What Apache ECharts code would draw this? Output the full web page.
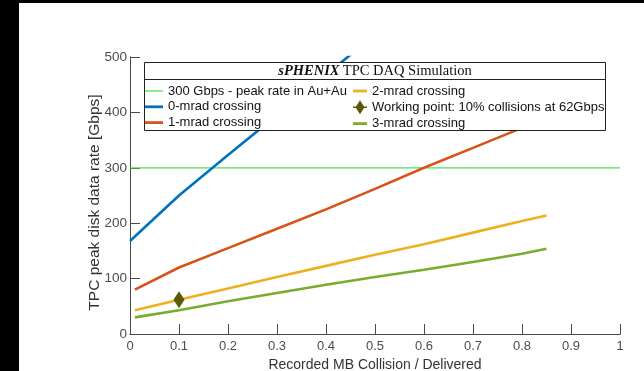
<!DOCTYPE html>
<html>
<head>
<meta charset="utf-8">
<script src="https://cdn.jsdelivr.net/npm/echarts@6/dist/echarts.min.js"></script>
<style>
html,body{margin:0;padding:0;background:#fff;}
#c{width:644px;height:371px;}
</style>
</head>
<body>
<div id="c"></div>
<script>
// ---- data ----
var xTicks = [0, 0.1, 0.2, 0.3, 0.4, 0.5, 0.6, 0.7, 0.8, 0.9, 1];
var yTicks = [0, 100, 200, 300, 400, 500];
var peakRateX = [0, 1];
var peakRateY = [300, 300];
var mrad0X = [0, 0.1, 0.2, 0.3, 0.4, 0.5];
var mrad0Y = [168, 250, 323, 395, 468, 540];
var mradX = [0.01, 0.1, 0.2, 0.3, 0.4, 0.5, 0.6, 0.7, 0.8, 0.85];
var mrad1Y = [80, 120, 155, 190, 225, 262, 300, 336, 372, 390];
var mrad2Y = [43, 62, 82, 103, 123, 143, 162, 183, 204, 214];
var mrad3Y = [30, 43, 59, 74, 89, 103, 116, 130, 145, 154];
var workX = [0.1];
var workY = [62];
var names = ['300 Gbps - peak rate in Au+Au', '0-mrad crossing', '1-mrad crossing',
             '2-mrad crossing', 'Working point: 10% collisions at 62Gbps', '3-mrad crossing'];

function zip(xs, ys) { return xs.map(function (x, i) { return [x, ys[i]]; }); }

var axisCol = '#4a4a4a';
var labelCol = '#4d4d4d';
var font = 'Liberation Sans, Arial, sans-serif';
var lineIcon = 'path://M0,0 H18 V2.8 H0 Z';
var thinIcon = 'path://M0,0 H18 V1.3 H0 Z';
var lineIcon2 = 'path://M0,0 H14 V2.8 H0 Z';
var diamondIcon = 'path://M0,6.3 H14 V7.7 H0 Z M7,0 L11.5,7 L7,14 L2.5,7 Z';

var chart = echarts.init(document.getElementById('c'));
function lineSeries(name, data, color, width) {
  return {
    name: name, type: 'line', data: data, symbol: 'none', z: 2,
    xAxisIndex: 0, yAxisIndex: 0,
    lineStyle: { color: color, width: width }, itemStyle: { color: color },
    animation: false
  };
}
// axes that only draw the inward tick marks (shifted 5px into the plot, ticks pointing back out)
function xTickAxis(pos) {
  return {
    type: 'value', min: 0, max: 1, interval: 0.1, position: pos, offset: -5,
    axisLine: { show: false },
    axisTick: { show: true, length: 5, lineStyle: { color: axisCol } },
    axisLabel: { show: false }, splitLine: { show: false }
  };
}
function yTickAxis(pos) {
  return {
    type: 'value', min: 0, max: 500, interval: 100, position: pos, offset: -5,
    axisLine: { show: false },
    axisTick: { show: true, length: 5, lineStyle: { color: axisCol } },
    axisLabel: { show: false }, splitLine: { show: false }
  };
}
var legendText = { color: '#111', fontSize: 13, fontFamily: font };
var option = {
  backgroundColor: '#fff',
  animation: false,
  grid: { left: 130, right: 24, top: 57, bottom: 37, outerBoundsMode: 'none', containLabel: false },
  xAxis: [{
    type: 'value', min: 0, max: 1, interval: 0.1, position: 'bottom',
    name: 'Recorded MB Collision / Delivered', nameLocation: 'middle', nameGap: 22,
    nameTextStyle: { color: '#333', fontSize: 14, fontFamily: font },
    axisLine: { show: true, lineStyle: { color: axisCol, width: 1 } },
    axisTick: { show: false },
    axisLabel: { color: labelCol, fontSize: 13, fontFamily: font, margin: 6,
      formatter: function (v) { return String(+v.toFixed(1)); } },
    splitLine: { show: false }
  }, {
    type: 'value', min: 0, max: 1, interval: 0.1, position: 'top',
    axisLine: { show: true, lineStyle: { color: axisCol, width: 1 } },
    axisTick: { show: false },
    axisLabel: { show: false }, splitLine: { show: false }
  }, xTickAxis('bottom'), xTickAxis('top')],
  yAxis: [{
    type: 'value', min: 0, max: 500, interval: 100, position: 'left',
    name: 'TPC peak disk data rate [Gbps]', nameLocation: 'middle', nameGap: 27,
    nameMoveOverlap: false,
    nameTextStyle: { color: '#333', fontSize: 15.5, fontFamily: font, padding: [0, 14, 0, 0] },
    axisLine: { show: true, lineStyle: { color: axisCol, width: 1 } },
    axisTick: { show: false },
    axisLabel: { color: labelCol, fontSize: 13.5, fontFamily: font, margin: 3 },
    splitLine: { show: false }
  }, {
    type: 'value', min: 0, max: 500, interval: 100, position: 'right',
    axisLine: { show: true, lineStyle: { color: axisCol, width: 1 } },
    axisTick: { show: false },
    axisLabel: { show: false }, splitLine: { show: false }
  }, yTickAxis('left'), yTickAxis('right')],
  legend: [{
    orient: 'vertical', left: 145, top: 84.5, padding: 0, itemWidth: 18, itemHeight: 14, itemGap: 2.8,
    data: [
      { name: names[0], icon: thinIcon },
      { name: names[1], icon: lineIcon },
      { name: names[2], icon: lineIcon }
    ], z: 10,
    textStyle: legendText, selectedMode: false
  }, {
    orient: 'vertical', left: 353, top: 84.5, padding: 0, itemWidth: 14, itemHeight: 14, itemGap: 2.8,
    data: [
      { name: names[3], icon: lineIcon2 },
      { name: names[4], icon: diamondIcon },
      { name: names[5], icon: lineIcon2 }
    ], z: 10,
    textStyle: legendText, selectedMode: false
  }],
  graphic: [
    { type: 'rect', z: 5, shape: { x: 0, y: 0, width: 19, height: 371 }, style: { fill: '#000' } },
    { type: 'rect', z: 5, shape: { x: 0, y: 0, width: 644, height: 3 }, style: { fill: '#000' } },
    { type: 'rect', z: 5, shape: { x: 144.5, y: 62.5, width: 461, height: 68 },
      style: { fill: '#fff', stroke: '#222', lineWidth: 1 } },
    { type: 'line', z: 6, shape: { x1: 144.5, y1: 79.5, x2: 605.5, y2: 79.5 },
      style: { stroke: '#222', lineWidth: 1 } },
    { type: 'text', z: 6, x: 375, y: 71,
      style: {
        align: 'center', verticalAlign: 'middle',
        text: '{b|sPHENIX} {r|TPC DAQ Simulation}',
        rich: {
          b: { fontFamily: 'Liberation Serif, DejaVu Serif, serif', fontWeight: 'bold', fontStyle: 'italic', fontSize: 14.5, fill: '#111' },
          r: { fontFamily: 'Liberation Serif, DejaVu Serif, serif', fontSize: 14.5, fill: '#111' }
        }
      }
    }
  ],
  series: [
    lineSeries(names[0], zip(peakRateX, peakRateY), '#4ee04e', 1.3),
    lineSeries(names[1], zip(mrad0X, mrad0Y), '#0072BD', 2.6),
    lineSeries(names[2], zip(mradX, mrad1Y), '#D95319', 2.6),
    lineSeries(names[3], zip(mradX, mrad2Y), '#EDB120', 2.6),
    {
      name: names[4], type: 'line', data: zip(workX, workY), symbol: 'diamond',
      xAxisIndex: 0, yAxisIndex: 0,
      symbolSize: [11, 17], showSymbol: true, z: 3,
      lineStyle: { color: '#5a5a06', width: 1.5 }, itemStyle: { color: '#5a5a06' }
    },
    lineSeries(names[5], zip(mradX, mrad3Y), '#77AC30', 2.6)
  ]
};
chart.setOption(option);
</script>
</body>
</html>
